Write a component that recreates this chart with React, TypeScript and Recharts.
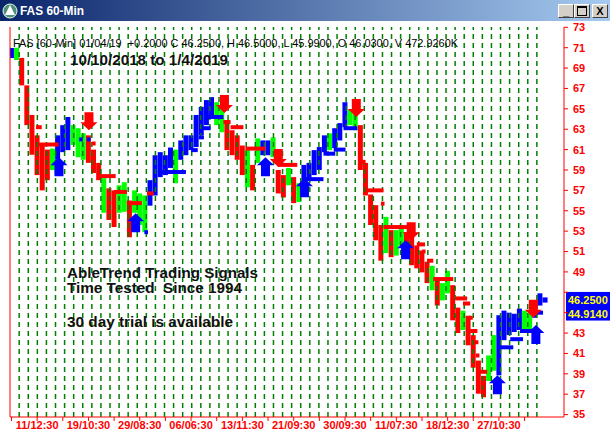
import React from "react";
import {
  ComposedChart,
  Bar,
  Cell,
  XAxis,
  YAxis,
  ReferenceLine,
  Scatter,
} from "recharts";

// one sample = 4 hourly bars; index k on the x axis
const HIGHS = [
  70.97, 71.0, 70.0, 67.3, 64.4, 62.4, 61.45, 61.0, 61.1, 62.4,
  63.4, 64.2, 63.4, 63.1, 62.6, 62.4, 61.0, 59.7, 58.2, 57.2,
  57.0, 57.5, 57.8, 56.0, 57.0, 56.7, 56.5, 58.0, 60.45, 60.75,
  60.45, 61.2, 61.0, 61.9, 62.4, 62.4, 64.4, 65.2, 65.86, 66.15,
  65.65, 65.1, 63.9, 62.9, 62.4, 61.4, 61.0, 59.5, 62.1, 61.9,
  61.9, 62.2, 59.0, 58.5, 59.2, 58.3, 57.7, 59.5, 59.7, 60.95,
  61.25, 62.4, 62.6, 63.1, 63.6, 65.65, 64.9, 64.7, 63.4, 59.7,
  56.6, 55.55, 53.6, 54.4, 53.1, 53.1, 53.6, 52.9, 52.6, 51.6,
  51.1, 50.0, 49.6, 48.35, 47.9, 49.1, 47.7, 45.5, 45.2, 44.7,
  42.8, 40.3, 38.8, 40.8, 42.8, 44.75, 45.2, 45.0, 44.9, 45.4,
  45.2, 44.9, 46.2, 46.9, 46.5,
];
const LOWS = [
  69.98, 69.8, 67.3, 63.4, 60.5, 58.5, 57.0, 58.0, 59.0, 60.0,
  60.75, 60.95, 61.45, 60.25, 60.0, 59.7, 58.7, 58.0, 54.8, 54.1,
  53.4, 54.8, 54.9, 52.4, 54.8, 53.6, 52.9, 55.5, 56.5, 58.3,
  58.5, 59.2, 57.7, 60.0, 60.45, 60.95, 61.25, 62.4, 63.4, 64.1,
  63.4, 62.7, 60.95, 60.45, 60.0, 58.5, 57.3, 57.0, 59.7, 60.45,
  60.45, 60.25, 56.7, 56.3, 57.5, 55.75, 55.85, 57.5, 58.0, 58.5,
  59.0, 60.75, 60.95, 61.15, 61.9, 63.2, 63.4, 62.9, 59.0, 56.5,
  53.6, 52.1, 50.1, 50.85, 50.45, 50.6, 51.6, 51.4, 49.65, 49.35,
  48.95, 47.9, 47.2, 45.7, 46.2, 46.9, 44.25, 43.0, 43.3, 41.8,
  39.6, 37.05, 36.7, 38.3, 39.3, 38.85, 42.3, 42.8, 43.1, 43.3,
  43.3, 43.1, 44.5, 45.7, 45.99,
];
// b = up trend, g = neutral, r = down trend
const TRENDS = [
  "b", "g", "r", "r", "r", "r", "r", "r", "g", "b",
  "b", "b", "g", "g", "g", "r", "r", "r", "g", "r",
  "r", "g", "g", "r", "g", "g", "g", "b", "b", "b",
  "b", "b", "g", "b", "b", "b", "b", "b", "b", "b",
  "g", "g", "r", "r", "r", "r", "g", "r", "g", "b",
  "b", "g", "r", "r", "g", "r", "g", "b", "b", "b",
  "b", "b", "g", "b", "b", "b", "g", "g", "r", "r",
  "r", "r", "r", "g", "r", "g", "g", "r", "r", "r",
  "r", "r", "g", "r", "g", "g", "r", "r", "g", "r",
  "r", "r", "r", "g", "g", "b", "b", "b", "b", "b",
  "g", "g", "b", "b", "b",
];

// [from, to, price]
const RED_STOPS = [
  [4.8, 5.9, 63.2], [5.3, 9.2, 61.5], [15.7, 16.4, 61.6], [15.7, 16.4, 60.75],
  [17.0, 20.3, 58.4], [20.0, 22.5, 56.85], [22.5, 25.4, 55.75], [26.4, 27.7, 56.7],
  [41.3, 42.7, 63.7], [42.7, 45.2, 63.2], [45.6, 49.5, 61.1], [51.9, 55.7, 59.5],
  [67.6, 69.0, 59.8], [69.0, 72.5, 57.0], [72.0, 72.7, 55.7], [72.5, 77.7, 53.4],
  [79.0, 80.6, 51.7], [80.0, 80.7, 51.0], [81.0, 82.2, 50.1], [82.2, 86.1, 48.3],
  [86.5, 88.8, 46.4], [88.0, 89.4, 45.9], [89.2, 89.9, 44.5], [89.4, 90.8, 43.2],
  [90.3, 91.0, 42.1], [90.5, 91.2, 40.8], [90.8, 92.7, 39.2],
];
const BLUE_STOPS = [
  [13.2, 13.9, 62.0], [14.7, 15.4, 62.0], [25.9, 26.6, 52.9], [29.3, 34.0, 58.8],
  [35.0, 36.3, 60.95], [36.5, 37.5, 62.2], [37.3, 38.8, 63.1], [38.2, 41.3, 64.2],
  [56.9, 60.8, 58.1], [60.8, 63.1, 60.6], [62.8, 65.1, 61.0], [64.7, 67.4, 63.1],
  [94.8, 97.8, 41.6], [97.2, 99.7, 42.4], [99.1, 102.4, 43.2], [102.0, 103.6, 45.0],
];

// [k, price at arrow tip]
const BUY_SIGNALS = [
  [9.25, 60.25], [24.2, 54.75], [49.5, 60.25], [57.1, 58.2],
  [76.8, 52.1], [94.7, 38.85], [102.2, 43.8],
];
const SELL_SIGNALS = [
  [15.1, 62.9], [41.5, 64.6], [52.0, 59.3], [67.2, 64.2], [77.9, 52.1], [101.7, 44.5],
];

const PRICE_TICKS = [35, 37, 39, 41, 43, 45, 47, 49, 51, 53, 55, 57, 59, 61, 63, 65, 67, 69, 71, 73];
const HIDDEN_PRICE_LABELS = [45, 47]; // covered by the price tags
const TIME_TICKS = [0, 5, 10, 15, 20, 25, 30, 35, 40, 45, 50, 55, 60, 65, 70, 75, 80, 85, 90, 95, 100];
const TIME_LABELS = [
  "11/12:30", "19/10:30", "29/08:30", "06/06:30", "13/11:30",
  "21/09:30", "30/09:30", "11/07:30", "18/12:30", "27/10:30",
];
const LAST_CLOSE = 46.25;
const TREND_STOP = 44.914;

const SESSION_COUNT = 58;
const SESSION_START = 1.5;
const SESSION_LEN = 1.77;

const X_DOMAIN = [-0.29, 107.68];
const Y_DOMAIN = [34.764, 73.03];
const FONT = "'Liberation Sans', Arial, sans-serif";
const COLORS: Record<string, string> = { r: "#ff0000", g: "#00ff00", b: "#0000ff" };

const bars = HIGHS.map((h, i) => ({ k: i, range: [LOWS[i], h], trend: TRENDS[i] }));
const sessions = Array.from({ length: SESSION_COUNT }, (_, j) => SESSION_START + SESSION_LEN * j);

const UpArrow = (p: any) => {
  const { cx, cy } = p;
  return (
    <path
      d={`M${cx} ${cy} L${cx + 8.5} ${cy + 8} L${cx + 4.5} ${cy + 8} L${cx + 4.5} ${cy + 19} L${cx - 4.5} ${cy + 19} L${cx - 4.5} ${cy + 8} L${cx - 8.5} ${cy + 8} Z`}
      fill="#0000ff"
    />
  );
};
const DownArrow = (p: any) => {
  const { cx, cy } = p;
  return (
    <path
      d={`M${cx} ${cy} L${cx + 8.5} ${cy - 8} L${cx + 4.5} ${cy - 8} L${cx + 4.5} ${cy - 18} L${cx - 4.5} ${cy - 18} L${cx - 4.5} ${cy - 8} L${cx - 8.5} ${cy - 8} Z`}
      fill="#ff0000"
    />
  );
};

const PriceTag = (value: number) => (p: any) => {
  const { x, y, width } = p.viewBox;
  return (
    <g>
      <rect x={x + width + 2} y={y - 8} width={46} height={15} fill="#0000ff" />
      <text x={x + width + 4} y={y + 4} fill="#ffff00" fontSize={11} fontWeight="bold" fontFamily={FONT}>
        {value.toFixed(4)}
      </text>
    </g>
  );
};

function TitleBar() {
  const btn = (left: number, glyph: React.ReactNode) => (
    <div
      style={{
        position: "absolute", left, top: 4, width: 16, height: 14, boxSizing: "border-box",
        background: "#d4d0c8", borderTop: "1px solid #fff", borderLeft: "1px solid #fff",
        borderRight: "1px solid #404040", borderBottom: "1px solid #404040",
        fontFamily: FONT, fontSize: 11, fontWeight: "bold", lineHeight: "12px", textAlign: "center", color: "#000",
      }}
    >
      {glyph}
    </div>
  );
  return (
    <div
      style={{
        position: "absolute", left: 0, top: 0, width: 610, height: 21,
        background: "linear-gradient(to right, #0a246a, #a6caf0)",
      }}
    >
      <svg width={200} height={21} style={{ position: "absolute", left: 0, top: 0 }}>
        <circle cx={10} cy={11} r={7} fill="#4e8f7a" stroke="#dfe" strokeWidth={1} />
        <path d="M10 5 L15 15 L5 15 Z" fill="#fff" />
        <text x={20} y={15} fill="#fff" fontSize={12} fontWeight="bold" fontFamily={FONT} textLength={64} lengthAdjust="spacingAndGlyphs">
          FAS 60-Min
        </text>
      </svg>
      {btn(558, "_")}
      {btn(574, <span style={{ display: "inline-block", width: 8, height: 7, border: "1px solid #000", borderTopWidth: 2, marginTop: 1 }} />)}
      {btn(592, "X")}
    </div>
  );
}

export default function App() {
  return (
    <div style={{ position: "absolute", left: 0, top: 0, width: 610, height: 435, background: "#fff", overflow: "hidden" }}>
      <ComposedChart width={610} height={435} data={bars} margin={{ top: 27, right: 0, bottom: 0, left: 9 }}>
        <XAxis
          dataKey="k"
          type="number"
          domain={X_DOMAIN}
          allowDataOverflow
          ticks={TIME_TICKS}
          interval={0}
          height={18}
          tickSize={4}
          tickMargin={0}
          stroke="#ff0000"
          tickFormatter={(v: number) => (v % 10 === 5 ? TIME_LABELS[(v - 5) / 10] : "")}
          tick={{ fill: "#ff0000", fontSize: 11, fontWeight: "bold", fontFamily: FONT }}
        />
        {/* second x axis: closes the frame on top and carries the signal arrows */}
        <XAxis xAxisId="top" orientation="top" dataKey="k" type="number" domain={X_DOMAIN} allowDataOverflow height={0} tick={false} tickLine={false} axisLine={{ stroke: "#ff0000" }} />
        <YAxis
          orientation="right"
          type="number"
          domain={Y_DOMAIN}
          allowDataOverflow
          ticks={PRICE_TICKS}
          interval={0}
          width={46}
          tickSize={4}
          tickMargin={5}
          stroke="#ff0000"
          tickFormatter={(v: number) => (HIDDEN_PRICE_LABELS.includes(v) ? "" : String(v))}
          tick={{ fill: "#ff0000", fontSize: 11, fontWeight: "bold", fontFamily: FONT }}
        />
        <YAxis yAxisId="frame" orientation="left" width={1} domain={[0, 1]} tick={false} tickLine={false} axisLine={{ stroke: "#ff0000" }} />

        {sessions.map((x, i) => (
          <ReferenceLine key={`s${i}`} x={x} stroke="#008000" strokeWidth={1.5} strokeDasharray="5 4" />
        ))}

        <Bar dataKey="range" barSize={5} isAnimationActive={false}>
          {bars.map((d, i) => (
            <Cell key={i} fill={COLORS[d.trend]} />
          ))}
        </Bar>

        {RED_STOPS.map(([a, b, v], i) => (
          <ReferenceLine key={`r${i}`} segment={[{ x: a, y: v }, { x: b, y: v }]} stroke="#ff0000" strokeWidth={4} />
        ))}
        {BLUE_STOPS.map(([a, b, v], i) => (
          <ReferenceLine key={`b${i}`} segment={[{ x: a, y: v }, { x: b, y: v }]} stroke="#0000ff" strokeWidth={4} />
        ))}

        <Scatter xAxisId="top" data={BUY_SIGNALS.map(([k, v]) => ({ k, v }))} dataKey="v" shape={UpArrow} isAnimationActive={false} />
        <Scatter xAxisId="top" data={SELL_SIGNALS.map(([k, v]) => ({ k, v }))} dataKey="v" shape={DownArrow} isAnimationActive={false} />

        <ReferenceLine y={LAST_CLOSE} stroke="none" ifOverflow="visible" label={PriceTag(LAST_CLOSE)} />
        <ReferenceLine y={TREND_STOP} stroke="none" ifOverflow="visible" label={PriceTag(TREND_STOP)} />
      </ComposedChart>

      <svg width={610} height={435} style={{ position: "absolute", left: 0, top: 0, pointerEvents: "none" }}>
        <text x={13} y={47} fontSize={11} fontFamily={FONT} fill="#000" textLength={445} lengthAdjust="spacingAndGlyphs" style={{ whiteSpace: "pre" }}>
          FAS [60-Min] 01/04/19  +0.2000 C 46.2500, H 46.5000, L 45.9900, O 46.0300, V 472.9260K
        </text>
        <text x={70} y={65} fontSize={14} fontWeight="bold" fontFamily={FONT} fill="#111" textLength={158} lengthAdjust="spacingAndGlyphs">
          10/10/2018 to 1/4/2019
        </text>
        <text x={67} y={278} fontSize={14} fontWeight="bold" fontFamily={FONT} fill="#111" textLength={191} lengthAdjust="spacingAndGlyphs">
          AbleTrend Trading Signals
        </text>
        <text x={67} y={293} fontSize={14} fontWeight="bold" fontFamily={FONT} fill="#111" textLength={175} lengthAdjust="spacingAndGlyphs" style={{ whiteSpace: "pre" }}>
          Time Tested  Since 1994
        </text>
        <text x={67} y={327} fontSize={14} fontWeight="bold" fontFamily={FONT} fill="#111" textLength={166} lengthAdjust="spacingAndGlyphs">
          30 day trial is available
        </text>
      </svg>
      <TitleBar />
    </div>
  );
}
